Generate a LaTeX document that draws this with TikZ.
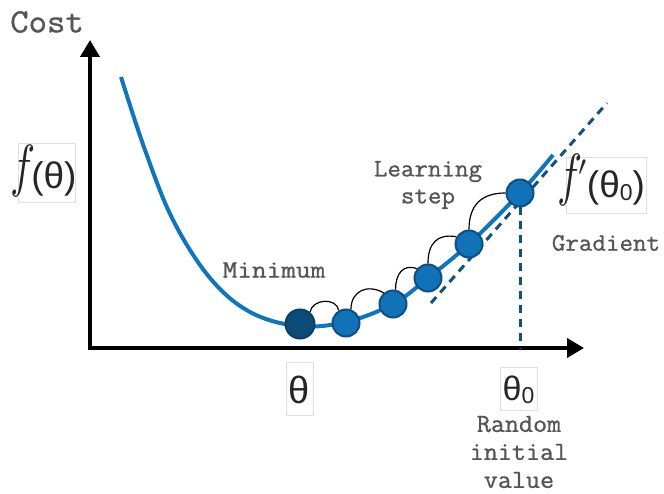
\documentclass[tikz,border=0pt]{standalone}
\usepackage{graphicx}
\usepackage{fontspec}
\setmainfont{Liberation Sans}
\newfontface\tw{Latin Modern Mono}[FakeBold=1.0,FakeStretch=1.05]
\newcommand{\bigf}{\raisebox{3pt}{\scalebox{4.2}[5.8]{\normalsize$f$}}}
\newcommand{\bigprime}{\raisebox{22pt}{\scalebox{2.8}{\normalsize$\prime$}}}
\newcommand{\subzero}{{\fontsize{23}{24}\selectfont\raisebox{-3pt}{0}}}
\usetikzlibrary{arrows.meta}
\definecolor{curveblue}{HTML}{0F75BC}
\definecolor{circfill}{HTML}{1172B8}
\definecolor{circline}{HTML}{0D4F82}
\definecolor{darkfill}{HTML}{0B4B78}
\definecolor{darkline}{HTML}{0A3F66}
\definecolor{dashcol}{HTML}{12507E}
\definecolor{txtgray}{HTML}{555555}
\tikzset{
  axis/.style={line width=4pt,-{Triangle[length=17pt,width=19pt]}},
  costcurve/.style={line width=4pt,curveblue},
  dashline/.style={line width=3pt,dashcol,dash pattern=on 8pt off 6pt},
  stepdot/.style={circle,minimum size=27pt,inner sep=0pt,fill=circfill,draw=circline,line width=2pt},
  mindot/.style={stepdot,fill=darkfill,draw=darkline,minimum size=29pt},
  hop/.style={line width=1.2pt,black},
  lbl/.style={font=\tw\fontsize{25}{28}\selectfont,text=txtgray,inner sep=0pt,align=center},
  mathbox/.style={draw=gray!25,line width=0.6pt,inner sep=0pt},
  mathtext/.style={inner sep=0pt,text=black!85,font=\fontsize{37}{42}\selectfont}
}
\begin{document}
\begin{tikzpicture}[x=1pt,y=-1pt]
\useasboundingbox (0,0) rectangle (664,494);
% axes
\coordinate (o) at (90,348);
\coordinate (ytop) at (90,40);
\coordinate (xend) at (584,348);
\draw[axis] (90,350) -- (ytop);
\draw[axis] (88,348) -- (xend);
% curve
\draw[costcurve] plot[smooth,tension=0.6] coordinates {(121,77) (145,150) (173,220) (210,278) (250,312) (298,326) (346,322) (393,304) (428,278) (469,244) (520,193) (553,155)};
% tangent
\coordinate (t1) at (431,303);
\coordinate (t2) at (607,103);
\draw[dashline] (t1) -- (t2);
% circles
\node[mindot] (c1) at (300,324) {};
\node[stepdot] (c2) at (346,323) {};
\node[stepdot] (c3) at (393,304) {};
\node[stepdot] (c4) at (428,278) {};
\node[stepdot] (c5) at (469,244) {};
\node[stepdot] (c6) at (520,193) {};
% vertical dashed
\coordinate (xb) at (520,348);
\draw[dashline] (c6.south) -- (xb);
% hops
\draw[hop] (c1.50) to[out=80,in=100,looseness=1.2] (c2.120);
\draw[hop] (c2.70) to[out=90,in=150,looseness=1.3] (c3.130);
\draw[hop] (c3.80) to[out=90,in=160,looseness=1.3] (c4.140);
\draw[hop] (c4.90) to[out=90,in=170,looseness=1.3] (c5.150);
\draw[hop] (c5.90) to[out=90,in=180,looseness=1.2] (c6.west);
% labels
\node[lbl,font=\tw\fontsize{34}{36}\selectfont] (cost) at (47,22) {Cost};
\node[mathbox,minimum width=57pt,minimum height=59pt] (fthbox) at (46.5,172.5) {};
\node[mathtext,anchor=base west] (fth) at (10,189) {\bigf\kern-4pt(θ)};
\node[lbl,font=\tw\fontsize{25}{28}\selectfont\addfontfeature{FakeStretch=1.14}] (minl) at (274,270) {Minimum};
\node[lbl] (learn) at (428,185) {Learning\\[-1pt]step};
\node[mathbox,minimum width=80pt,minimum height=56pt] (fpbox) at (606,185) {};
\node[mathtext,anchor=base west] (fp) at (557,198) {\bigf\kern-4pt\bigprime\kern1pt(θ\subzero)};
\node[lbl] (grad) at (606,243) {Gradient};
\node[mathbox,minimum width=27pt,minimum height=53pt] (thbox) at (299.5,388.5) {};
\node[mathtext,font=\fontsize{38}{40}\selectfont] (th) at (299.5,390) {θ};
\node[mathbox,minimum width=37pt,minimum height=43pt] (th0box) at (518.5,388.5) {};
\node[mathtext,font=\fontsize{34}{40}\selectfont] (th0) at (518.5,390) {θ\subzero};
\node[lbl,font=\tw\fontsize{26}{28}\selectfont] (rand) at (519,452) {Random\\initial\\value};
\end{tikzpicture}
\end{document}
